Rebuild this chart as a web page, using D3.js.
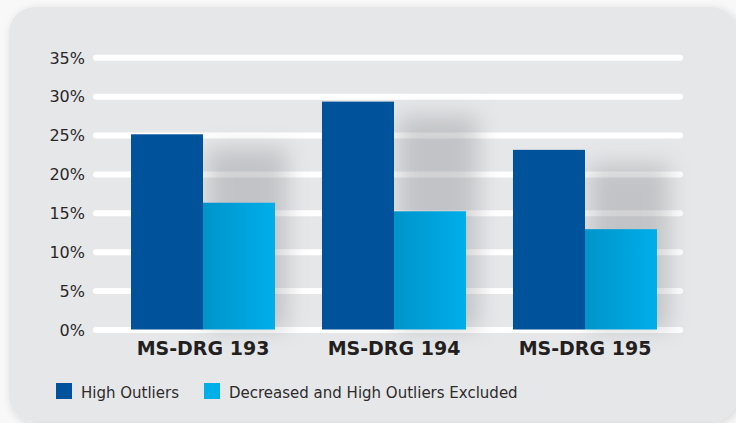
<!DOCTYPE html>
<html><head><meta charset="utf-8">
<script src="https://cdn.jsdelivr.net/npm/d3@7/dist/d3.min.js"></script>
<style>html,body{margin:0;padding:0;background:#f8f8f8;}svg{display:block;}</style>
</head><body>
<script>
const categories = ["MS-DRG 193", "MS-DRG 194", "MS-DRG 195"];
const seriesNames = ["High Outliers", "Decreased and High Outliers Excluded"];
const highOutliers = [25.1, 29.3, 23.1];
const decreasedExcluded = [16.3, 15.2, 12.9];
const yTicks = [0, 5, 10, 15, 20, 25, 30, 35];

const W = 736, H = 423;
const svg = d3.select("body").append("svg").attr("width", W).attr("height", H);
const defs = svg.append("defs");

const pf = defs.append("filter").attr("id","panelShadow").attr("x","-5%").attr("y","-5%").attr("width","110%").attr("height","110%");
pf.append("feGaussianBlur").attr("in","SourceAlpha").attr("stdDeviation",4).attr("result","b");
pf.append("feOffset").attr("in","b").attr("dx",2).attr("dy",2).attr("result","o");
pf.append("feComponentTransfer").attr("in","o").attr("result","s").append("feFuncA").attr("type","linear").attr("slope",0.15);
const pm = pf.append("feMerge"); pm.append("feMergeNode").attr("in","s"); pm.append("feMergeNode").attr("in","SourceGraphic");

const sf = defs.append("filter").attr("id","barShadow").attr("x","-50%").attr("y","-50%").attr("width","200%").attr("height","200%");
sf.append("feGaussianBlur").attr("stdDeviation",11);

const lg = defs.append("linearGradient").attr("id","lightGrad").attr("x1","0").attr("x2","1").attr("y1","0").attr("y2","0");
lg.append("stop").attr("offset","0%").attr("stop-color","#0094ca");
lg.append("stop").attr("offset","100%").attr("stop-color","#00aeea");

// panel
svg.append("rect").attr("x",9).attr("y",7).attr("width",728).attr("height",415)
  .attr("rx",26).attr("fill","#e6e7e9").attr("filter","url(#panelShadow)");

const x = d3.scaleBand().domain(categories).range([107.5, 680.5]).paddingInner(0.246).paddingOuter(0.123);
const xs = d3.scaleBand().domain([0,1]).range([0, x.bandwidth()]);
const y = d3.scaleLinear().domain([0, 35]).range([329.5, 57.3]);

// gridlines + tick labels via axis
const yAxis = d3.axisLeft(y).tickValues(yTicks).tickFormat(d => d + "%").tickSize(-584).tickPadding(11);
const ga = svg.append("g").attr("transform","translate(96,0)").call(yAxis);
ga.select(".domain").remove();
ga.selectAll(".tick line").attr("stroke","#ffffff").attr("stroke-width",6).attr("stroke-linecap","round");
ga.selectAll(".tick text").attr("fill","#2a2728").attr("font-family","DejaVu Sans, Verdana, sans-serif").attr("font-size",16).attr("dy","0.36em");

// shadows
const groups = categories.map((c,i)=>({c, a: highOutliers[i], b: decreasedExcluded[i]}));
svg.append("g").selectAll("rect").data(groups).join("rect")
  .attr("x", d => x(d.c) + xs(1) + 4)
  .attr("y", d => y(d.a) + 14)
  .attr("width", xs.bandwidth() + 8)
  .attr("height", d => y(0) - y(d.a) - 14)
  .attr("fill","#8a8b90").attr("opacity",0.38).attr("filter","url(#barShadow)");

// bars
const bars = svg.append("g");
bars.selectAll("rect.hi").data(groups).join("rect").attr("class","hi")
  .attr("x", d => x(d.c) + xs(0)).attr("width", xs.bandwidth())
  .attr("y", d => y(d.a)).attr("height", d => y(0) - y(d.a)).attr("fill","#00529b");
bars.selectAll("rect.lo").data(groups).join("rect").attr("class","lo")
  .attr("x", d => x(d.c) + xs(1)).attr("width", xs.bandwidth())
  .attr("y", d => y(d.b)).attr("height", d => y(0) - y(d.b)).attr("fill","url(#lightGrad)");

// category axis
const xAxis = d3.axisBottom(x).tickSize(0).tickPadding(11.5);
const gx = svg.append("g").attr("transform","translate(0,330)").call(xAxis);
gx.select(".domain").remove();
gx.selectAll(".tick text").attr("fill","#231f20").attr("font-family","DejaVu Sans, Verdana, sans-serif")
  .attr("font-size",19).attr("font-weight","bold");

// legend
const legendX = [56, 204];
const colors = ["#00529b", "#00aee8"];
const leg = svg.append("g");
seriesNames.forEach((n,i)=>{
  leg.append("rect").attr("x",legendX[i]).attr("y",383).attr("width",16).attr("height",16).attr("fill",colors[i]);
  leg.append("text").attr("x",legendX[i]+25).attr("y",398.3).text(n)
    .attr("font-family","DejaVu Sans, Verdana, sans-serif").attr("font-size",15).attr("fill","#2e2b2c");
});
</script>
</body></html>
